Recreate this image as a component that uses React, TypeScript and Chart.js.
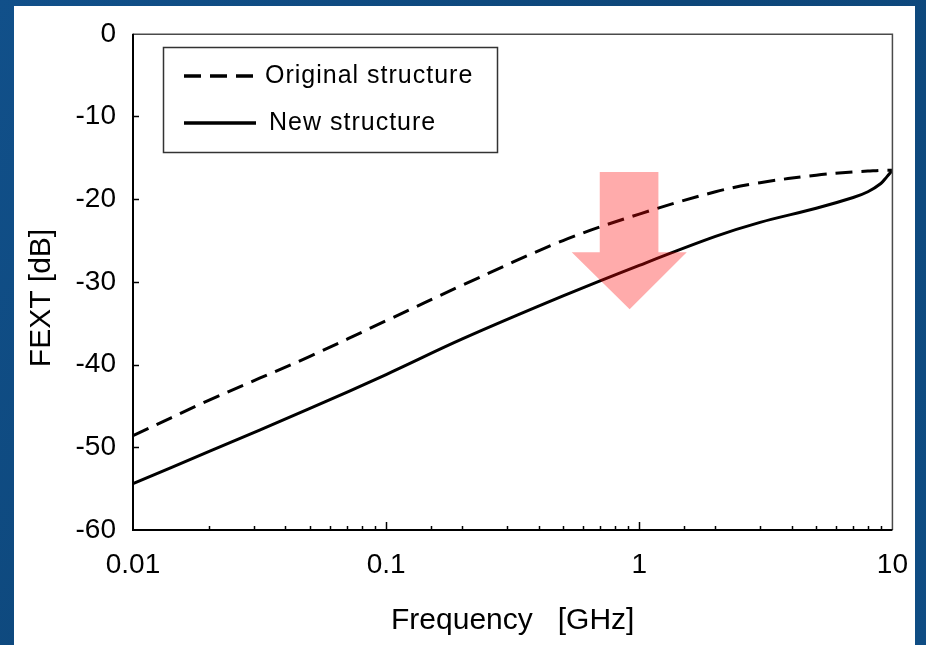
import React, { useEffect, useRef } from 'react';
import { Chart, registerables } from 'chart.js';

Chart.register(...registerables);

// ---- data ----
const FREQ_GHZ = [0.01, 0.02, 0.05, 0.1, 0.2, 0.5, 1, 2, 3, 5, 7, 8, 9, 9.5, 10];
const ORIGINAL_DB = [-48.6, -44.3, -39.0, -34.7, -30.4, -25.0, -21.8, -19.1, -18.0, -17.1, -16.7, -16.6, -16.5, -16.5, -16.5];
const NEW_DB = [-54.4, -50.5, -45.3, -41.2, -36.9, -31.7, -28.0, -24.5, -22.8, -21.1, -19.8, -19.1, -18.1, -17.3, -16.5];
const SERIES_LABELS = ['Original structure', 'New structure'];
const X_LABELED_TICKS = [0.01, 0.1, 1, 10];
const Y_MIN = -60;
const Y_MAX = 0;
const Y_STEP = 10;
const X_TITLE = 'Frequency   [GHz]';
const Y_TITLE = 'FEXT [dB]';

// arrow annotation, in data units (frequency GHz, dB)
const ARROW_SHAFT_FREQ = [0.698, 1.19];
const ARROW_HEAD_FREQ = [0.541, 1.54];
const ARROW_TIP_FREQ = 0.916;
const ARROW_DB = [-16.7, -26.4, -33.3]; // top of shaft, head base, tip

const FONT = '"Liberation Sans", Arial, sans-serif';

const isPow10 = (v: number) => Math.abs(Math.log10(v) - Math.round(Math.log10(v))) < 1e-6;

const decor = {
  id: 'decor',
  beforeDraw(chart: any) {
    const { ctx, width, height } = chart;
    ctx.save();
    const g = ctx.createLinearGradient(0, 0, width, height);
    g.addColorStop(0, '#11508a');
    g.addColorStop(0.5, '#0d4679');
    g.addColorStop(1, '#0f4d84');
    ctx.fillStyle = g;
    ctx.fillRect(0, 0, width, height);
    ctx.fillStyle = '#ffffff';
    ctx.fillRect(14, 6, 901, height - 6);
    ctx.restore();
  },
  afterDatasetsDraw(chart: any) {
    const { ctx } = chart;
    const xs = chart.scales.x;
    const ys = chart.scales.y;
    const px = (f: number) => xs.getPixelForValue(f);
    const py = (d: number) => ys.getPixelForValue(d);
    ctx.save();
    ctx.fillStyle = 'rgba(255, 10, 10, 0.34)';
    ctx.beginPath();
    ctx.moveTo(px(ARROW_SHAFT_FREQ[0]), py(ARROW_DB[0]));
    ctx.lineTo(px(ARROW_SHAFT_FREQ[1]), py(ARROW_DB[0]));
    ctx.lineTo(px(ARROW_SHAFT_FREQ[1]), py(ARROW_DB[1]));
    ctx.lineTo(px(ARROW_HEAD_FREQ[1]), py(ARROW_DB[1]));
    ctx.lineTo(px(ARROW_TIP_FREQ), py(ARROW_DB[2]));
    ctx.lineTo(px(ARROW_HEAD_FREQ[0]), py(ARROW_DB[1]));
    ctx.lineTo(px(ARROW_SHAFT_FREQ[0]), py(ARROW_DB[1]));
    ctx.closePath();
    ctx.fill();
    ctx.restore();
  },
  afterDraw(chart: any) {
    const { ctx, chartArea } = chart;
    const { left, right, top, bottom } = chartArea;
    const xs = chart.scales.x;
    const ys = chart.scales.y;
    ctx.save();
    // frame
    ctx.strokeStyle = '#4a4a4a';
    ctx.lineWidth = 1.5;
    ctx.beginPath();
    ctx.moveTo(left, top + 0.5);
    ctx.lineTo(right, top + 0.5);
    ctx.lineTo(right, bottom);
    ctx.stroke();
    ctx.strokeStyle = '#000';
    ctx.lineWidth = 2;
    ctx.beginPath();
    ctx.moveTo(left, top);
    ctx.lineTo(left, bottom);
    ctx.lineTo(right, bottom);
    ctx.stroke();
    // y ticks (inside)
    ctx.lineWidth = 1.5;
    for (let v = Y_MIN + Y_STEP; v < Y_MAX; v += Y_STEP) {
      const y = Math.round(ys.getPixelForValue(v)) + 0.5;
      ctx.beginPath();
      ctx.moveTo(left, y);
      ctx.lineTo(left + 6, y);
      ctx.stroke();
    }
    // x ticks (inside)
    xs.ticks.forEach((t: any) => {
      const v = t.value;
      if (v <= xs.min || v >= xs.max) return;
      const x = Math.round(xs.getPixelForValue(v)) + 0.5;
      const len = isPow10(v) ? 8 : 4;
      ctx.beginPath();
      ctx.moveTo(x, bottom);
      ctx.lineTo(x, bottom - len);
      ctx.stroke();
    });
    // y title
    ctx.fillStyle = '#000';
    ctx.font = `30px ${FONT}`;
    ctx.textAlign = 'center';
    ctx.textBaseline = 'middle';
    ctx.translate(42, 298);
    ctx.rotate(-Math.PI / 2);
    ctx.fillText(Y_TITLE, 0, 0);
    ctx.restore();

    // legend box
    ctx.save();
    const bx = 163.5, by = 47.5, bw = 334, bh = 105;
    ctx.fillStyle = '#fff';
    ctx.fillRect(bx, by, bw, bh);
    ctx.strokeStyle = '#333';
    ctx.lineWidth = 1.5;
    ctx.strokeRect(bx, by, bw, bh);
    const rows = [76, 123];
    const textX = [265, 269];
    chart.data.datasets.forEach((ds: any, i: number) => {
      const y = rows[i];
      ctx.strokeStyle = ds.borderColor;
      ctx.lineWidth = 3.5;
      ctx.setLineDash(ds.borderDash || []);
      ctx.beginPath();
      ctx.moveTo(184, y);
      ctx.lineTo(256, y);
      ctx.stroke();
      ctx.setLineDash([]);
      ctx.fillStyle = '#000';
      ctx.font = `25px ${FONT}`;
      (ctx as any).letterSpacing = '1px';
      ctx.textAlign = 'left';
      ctx.textBaseline = 'middle';
      ctx.fillText(ds.label, textX[i], y);
      (ctx as any).letterSpacing = '0px';
    });
    ctx.restore();
  },
};

export default function App() {
  const ref = useRef<HTMLCanvasElement | null>(null);

  useEffect(() => {
    if (!ref.current) return;
    const chart = new Chart(ref.current, {
      type: 'line',
      data: {
        datasets: [
          {
            label: SERIES_LABELS[0],
            data: FREQ_GHZ.map((f, i) => ({ x: f, y: ORIGINAL_DB[i] })),
            borderColor: '#000',
            borderWidth: 3,
            borderDash: [17, 9],
            pointRadius: 0,
            tension: 0.35,
            fill: false,
          },
          {
            label: SERIES_LABELS[1],
            data: FREQ_GHZ.map((f, i) => ({ x: f, y: NEW_DB[i] })),
            borderColor: '#000',
            borderWidth: 3,
            pointRadius: 0,
            tension: 0.35,
            fill: false,
          },
        ],
      },
      options: {
        responsive: false,
        animation: false,
        devicePixelRatio: 1,
        layout: { padding: { left: 0, top: 28, right: 33, bottom: 0 } },
        plugins: {
          legend: { display: false },
          tooltip: { enabled: false },
        },
        scales: {
          x: {
            type: 'logarithmic',
            min: 0.01,
            max: 10,
            grid: { display: false, drawTicks: false },
            border: { display: false },
            ticks: {
              autoSkip: false,
              maxRotation: 0,
              padding: 18,
              color: '#000',
              font: { family: FONT, size: 28 },
              callback: (v: any) => {
                const n = Number(v);
                return X_LABELED_TICKS.some((t) => Math.abs(t - n) / t < 1e-6) ? String(n) : '';
              },
            },
            title: {
              display: true,
              text: X_TITLE,
              color: '#000',
              font: { family: FONT, size: 30 },
              padding: { top: 0, bottom: 6 },
            },
            afterFit: (s: any) => {
              s.height = 115;
            },
          },
          y: {
            type: 'linear',
            min: Y_MIN,
            max: Y_MAX,
            grid: { display: false, drawTicks: false },
            border: { display: false },
            ticks: {
              stepSize: Y_STEP,
              padding: 17,
              color: '#000',
              font: { family: FONT, size: 28 },
            },
            afterFit: (s: any) => {
              s.width = 133;
            },
          },
        },
      },
      plugins: [decor],
    } as any);
    return () => chart.destroy();
  }, []);

  return (
    <div style={{ position: 'fixed', left: 0, top: 0, width: 926, height: 645 }}>
      <canvas ref={ref} width={926} height={645} style={{ display: 'block' }} />
    </div>
  );
}
